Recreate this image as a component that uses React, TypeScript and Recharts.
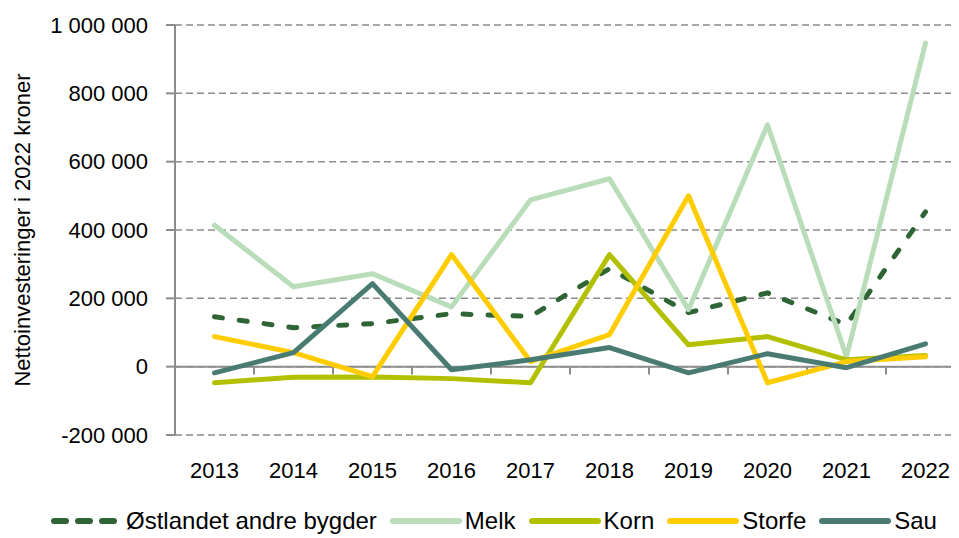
import React from "react";
import { LineChart, Line, XAxis, YAxis, CartesianGrid, ReferenceLine, Legend } from "recharts";

const years = ["2013", "2014", "2015", "2016", "2017", "2018", "2019", "2020", "2021", "2022"];
const ostlandet = [146000, 114000, 126000, 155000, 147000, 287000, 158000, 216000, 123000, 453000];
const melk = [414000, 234000, 272000, 175000, 488000, 550000, 167000, 708000, 29000, 947000];
const korn = [-47000, -31000, -30000, -35000, -47000, 328000, 64000, 88000, 20000, 33000];
const storfe = [88000, 41000, -29000, 328000, 15000, 94000, 500000, -47000, 15000, 29000];
const sau = [-18000, 41000, 243000, -9000, 20000, 56000, -18000, 38000, -3000, 67000];
const yTicks = [-200000, 0, 200000, 400000, 600000, 800000, 1000000];
const xTicks = years.map((_, i) => i + 0.5);
const boundaries = [1, 2, 3, 4, 5, 6, 7, 8, 9, 10];

const seriesDefs = [
  { key: "ost", name: "Østlandet andre bygder", color: "#2F6535", values: ostlandet, dash: "8 17" },
  { key: "melk", name: "Melk", color: "#B9DDB8", values: melk, dash: undefined },
  { key: "korn", name: "Korn", color: "#B3C000", values: korn, dash: undefined },
  { key: "storfe", name: "Storfe", color: "#FFCC00", values: storfe, dash: undefined },
  { key: "sau", name: "Sau", color: "#4A7B73", values: sau, dash: undefined },
];

const data = years.map((y, i) => {
  const row: any = { year: y, idx: i + 0.5 };
  seriesDefs.forEach((s) => (row[s.key] = s.values[i]));
  return row;
});

const FONT = "'Liberation Sans', Arial, sans-serif";

const fmt = (v: number) => {
  const neg = v < 0;
  const s = Math.abs(v).toString().replace(/\B(?=(\d{3})+(?!\d))/g, " ");
  return (neg ? "-" : "") + s;
};

const LegendContent = () => (
  <div
    style={{
      display: "flex",
      justifyContent: "center",
      alignItems: "center",
      height: 43,
      paddingTop: 8,
      boxSizing: "border-box",
      fontFamily: FONT,
      fontSize: 24,
      color: "#000",
      paddingLeft: 23,
    }}
  >
    {seriesDefs.map((s, i) => (
      <div
        key={s.key}
        style={{ display: "flex", alignItems: "center", marginRight: i < seriesDefs.length - 1 ? 13 : 0 }}
      >
        <svg width={72} height={10} style={{ marginRight: 3 }}>
          <line
            x1={3}
            y1={5}
            x2={s.dash ? 66 : 69}
            y2={5}
            stroke={s.color}
            strokeWidth={6}
            strokeLinecap="round"
            strokeDasharray={s.dash ? "12 12" : undefined}
          />
        </svg>
        <span>{s.name}</span>
      </div>
    ))}
  </div>
);

export default function App() {
  return (
    <div style={{ marginLeft: -8, marginTop: -8, width: 967, height: 538 }}>
      <LineChart width={967} height={538} data={data} margin={{ top: 25, right: 2, left: 0, bottom: 0 }}>
        <CartesianGrid vertical={false} stroke="#8C8C8C" strokeWidth={1.5} strokeDasharray="7 4" />
        <XAxis
          dataKey="idx"
          type="number"
          domain={[0, 10]}
          ticks={xTicks}
          tickFormatter={(v: number) => years[Math.floor(v)]}
          axisLine={false}
          tickLine={false}
          tickSize={0}
          tickMargin={27}
          height={60}
          tick={{ fontFamily: FONT, fontSize: 22, fill: "#000" }}
          interval={0}
        />
        <YAxis
          width={175}
          domain={[-200000, 1000000]}
          ticks={yTicks}
          tickFormatter={fmt}
          interval={0}
          axisLine={{ stroke: "#8C8C8C", strokeWidth: 2 }}
          tickLine={{ stroke: "#8C8C8C", strokeWidth: 2 }}
          tickSize={9}
          tickMargin={18}
          tick={{ fontFamily: FONT, fontSize: 22, fill: "#000" }}
          label={{
            value: "Nettoinvesteringer i 2022 kroner",
            angle: -90,
            position: "insideLeft",
            offset: 22,
            style: { textAnchor: "middle", fontFamily: FONT, fontSize: 22, fill: "#000" },
          }}
        />
        <ReferenceLine y={0} stroke="#8C8C8C" strokeWidth={2} />
        {boundaries.map((b) => (
          <ReferenceLine
            key={b}
            ifOverflow="visible"
            segment={[
              { x: b, y: 0 },
              { x: b, y: -23000 },
            ]}
            stroke="#8C8C8C"
            strokeWidth={2}
          />
        ))}
        {seriesDefs.map((s) => (
          <Line
            key={s.key}
            type="linear"
            dataKey={s.key}
            name={s.name}
            stroke={s.color}
            strokeWidth={5}
            strokeDasharray={s.dash}
            strokeLinecap="round"
            strokeLinejoin="round"
            dot={false}
            activeDot={false}
            isAnimationActive={false}
          />
        ))}
        <Legend verticalAlign="bottom" height={43} content={<LegendContent />} />
      </LineChart>
    </div>
  );
}
